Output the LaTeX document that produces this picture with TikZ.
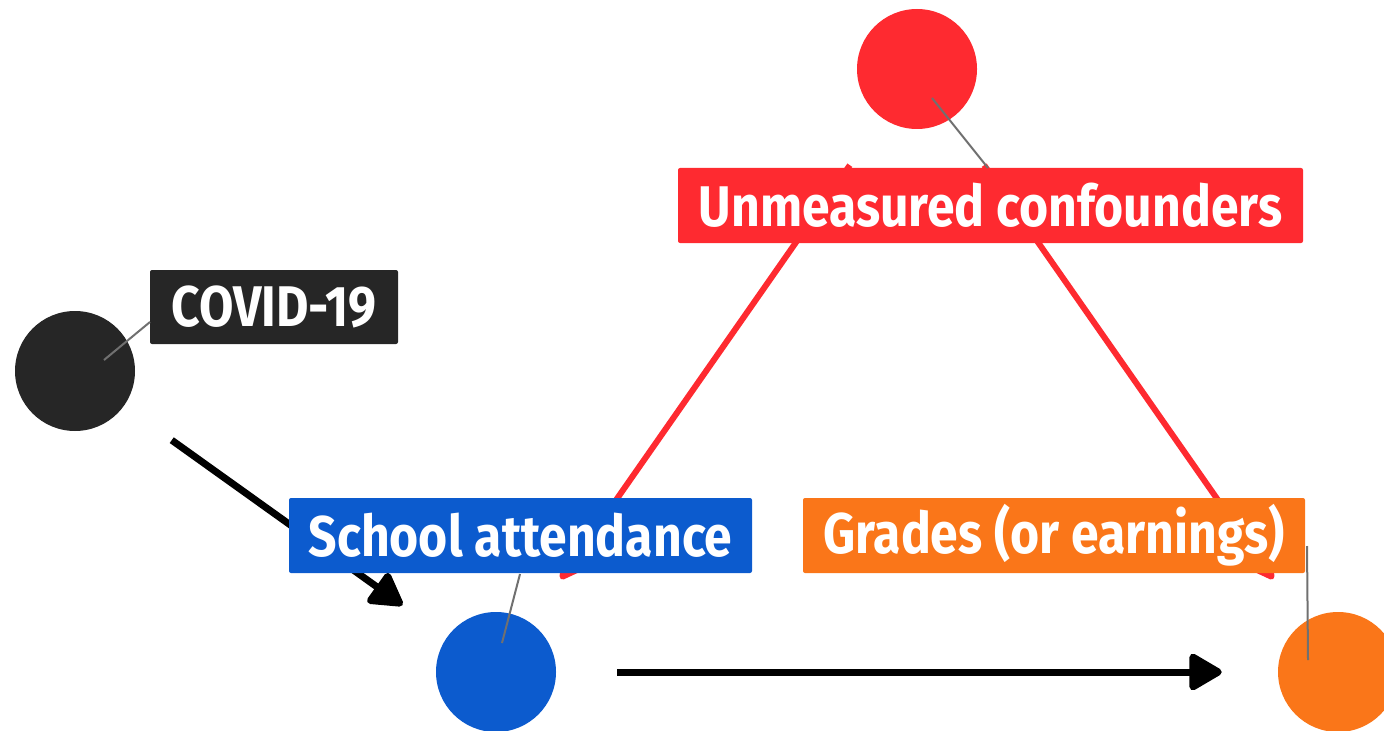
\documentclass[tikz,border=0pt]{standalone}
\usepackage{fontspec}
\setmainfont{Fira Sans}[FakeStretch=0.87]
\usetikzlibrary{arrows.meta}
\definecolor{cred}{RGB}{254,42,48}
\definecolor{cblue}{RGB}{12,91,206}
\definecolor{corange}{RGB}{250,118,25}
\definecolor{cblack}{RGB}{38,38,38}
\definecolor{cgray}{RGB}{112,112,112}
\tikzset{
  dot/.style={circle, minimum size=90pt, inner sep=0pt, fill=#1},
  lbl/.style={fill=#1, text=white, rounded corners=1.5pt, inner sep=0pt,
    font=\fontsize{43}{43}\selectfont\bfseries},
  causal/.style={line width=5.25pt, -{Triangle[length=27pt,width=30pt,round]}},
  conf/.style={cred, line width=4.5pt, -{Triangle[length=22pt,width=24pt,round]}},
  leader/.style={cgray, line width=1.5pt}
}
\begin{document}
\begin{tikzpicture}[x=0.75pt,y=-0.75pt]
\useasboundingbox (0,0) rectangle (1384,731);
\clip (0,0) rectangle (1384,731);
% circles
\node[dot=cred] (u) at (917,69) {};
\node[dot=cblack] (c) at (75,371) {};
\node[dot=cblue] (s) at (496,672) {};
\node[dot=corange] (g) at (1338,672) {};
% confounder lines
\draw[conf, shorten <=88pt, shorten >=85pt] (u.center) -- (s.center);
\draw[conf, shorten <=88pt, shorten >=85pt] (u.center) -- (g.center);
% causal arrows
\draw[causal, shorten <=44pt, shorten >=41pt] (c) -- (s);
\draw[causal, shorten <=45.75pt, shorten >=42pt] (s) -- (g);
% labels
\node[lbl=cred, minimum width=468.75pt, minimum height=56.25pt] (ul) at (990.5,205.5) {Unmeasured confounders};
\node[lbl=cblack, minimum width=186pt, minimum height=55.5pt] (cl) at (274,307) {COVID-19};
\node[lbl=cblue, minimum width=347.25pt, minimum height=56.25pt] (sl) at (520.5,535.5) {School attendance};
\node[lbl=corange, minimum width=376.5pt, minimum height=56.25pt] (gl) at (1054,535.5) {Grades (or earnings)};
% leaders
\coordinate (ua) at (932,98);
\coordinate (ca) at (104,360);
\coordinate (sa) at (502,643);
\coordinate (ga) at (1308,660);
\coordinate (ub) at (988,168);
\coordinate (cb) at (150,322);
\coordinate (sb) at (520,574);
\coordinate (gb) at (1307,546);
\draw[leader] (ua) -- (ub);
\draw[leader] (ca) -- (cb);
\draw[leader] (sa) -- (sb);
\draw[leader] (ga) -- (gb);
\end{tikzpicture}
\end{document}
